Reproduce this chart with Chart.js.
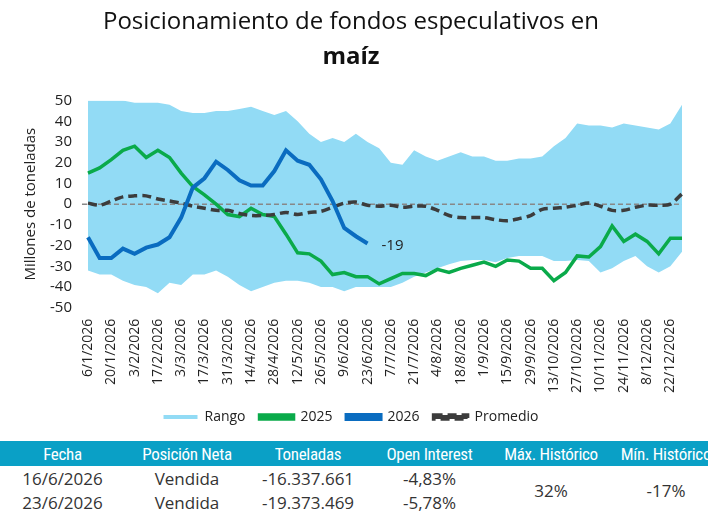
<!DOCTYPE html>
<html>
<head>
<meta charset="utf-8">
<script src="https://cdn.jsdelivr.net/npm/chart.js@4.4.1/dist/chart.umd.min.js"></script>
<style>
  body { margin: 0; background: #fff; width: 708px; height: 517px; overflow: hidden; font-family: 'Open Sans', sans-serif; }
  #wrap { position: absolute; left: 0; top: 0; width: 708px; height: 436px; }
  table { position: absolute; left: 0; top: 441px; border-collapse: collapse; table-layout: fixed; width: 722px; }
  th { background: #0aa0c6; color: #fff; font-family: 'Roboto', sans-serif; font-stretch: condensed; font-weight: normal; font-size: 17px; height: 25px; padding: 0; white-space: nowrap; letter-spacing: -0.3px; }
  td { color: #333; font-size: 17px; text-align: center; height: 24px; padding: 0; }
</style>
</head>
<body>
<div id="wrap"><canvas id="c" width="708" height="436"></canvas></div>
<table>
  <colgroup><col style="width:125px"><col style="width:124px"><col style="width:118px"><col style="width:125px"><col style="width:118px"><col style="width:112px"></colgroup>
  <tr><th>Fecha</th><th>Posición Neta</th><th>Toneladas</th><th>Open Interest</th><th>Máx. Histórico</th><th>Mín. Histórico</th></tr>
  <tr><td>16/6/2026</td><td>Vendida</td><td>-16.337.661</td><td>-4,83%</td><td rowspan="2">32%</td><td rowspan="2">-17%</td></tr>
  <tr><td>23/6/2026</td><td>Vendida</td><td>-19.373.469</td><td>-5,78%</td></tr>
</table>
<script>
const fechas = ['6/1/2026','13/1/2026','20/1/2026','27/1/2026','3/2/2026','10/2/2026','17/2/2026','24/2/2026',
  '3/3/2026','10/3/2026','17/3/2026','24/3/2026','31/3/2026','7/4/2026','14/4/2026','21/4/2026',
  '28/4/2026','5/5/2026','12/5/2026','19/5/2026','26/5/2026','2/6/2026','9/6/2026','16/6/2026',
  '23/6/2026','30/6/2026','7/7/2026','14/7/2026','21/7/2026','28/7/2026','4/8/2026','11/8/2026',
  '18/8/2026','25/8/2026','1/9/2026','8/9/2026','15/9/2026','22/9/2026','29/9/2026','6/10/2026',
  '13/10/2026','20/10/2026','27/10/2026','3/11/2026','10/11/2026','17/11/2026','24/11/2026','1/12/2026',
  '8/12/2026','15/12/2026','22/12/2026','29/12/2026'];

const rangoMax = [50,50,50,50,49,49,49,48,45,44,44,45,45,46,47,45,43,45,40,34,30,32,30,34,
  30,27,20,19,26,23,21,23,25,23,23,21,21,22,22,23,28,32,39,38,38,37,39,38,37,36,39,48];
const rangoMin = [-32,-34,-34,-37,-39,-40,-43,-38,-39,-34,-34,-32,-35,-39,-42,-40,-38,-37,-37,-38,-40,-40,-42,-40,
  -40,-40,-40,-38,-35,-33,-31,-29,-27.5,-27,-27,-28,-26,-25,-25,-25,-27.5,-27.5,-27,-27.5,-33,-31,-27.5,-25,-30,-33,-30,-23];
const serie2025 = [15,17.5,21.5,26,28,22.5,26,22.5,15,8.5,4.5,0,-5,-6,-2,-5,-6,-14.5,-23.5,-24,-27.5,-34,-33,-35,
  -35,-38.5,-36,-33.5,-33.5,-34.5,-31.5,-33,-31,-29.5,-28,-30,-27,-27.5,-31,-31,-37,-33,-25,-25.5,-20.5,-10.5,-18,-14.5,-18,-24,-16.5,-16.5];
const serie2026 = [-16,-26,-26,-21.5,-24,-21,-19.5,-16,-6.5,8,12.5,20.5,16.5,11.5,9,9,16,26,21,19,12,1.5,-11.5,-15.5,-19];
const promedio = [0.5,-0.5,1.5,3.5,4,4,2.5,1.5,0.5,-1,-2,-3,-3,-4.5,-5.5,-5.5,-5,-4,-5,-4,-3.5,-1.5,0.5,1,
  -0.5,-1,-0.5,-1.5,-1,-1,-3,-5.5,-6.5,-6.5,-6.5,-7.5,-8,-7,-5.5,-2.5,-2,-1.5,-0.5,0.5,-1,-3,-3,-1.5,-0.5,-0.5,0,5];
const ticksY = [50,40,30,20,10,0,-10,-20,-30,-40,-50];

const extras = {
  id: 'extras',
  beforeDatasetDraw(chart, args) {
    // zero line, drawn right after the range fill
    if (args.index !== 2) return;
    const { ctx, chartArea: a, scales: { y } } = chart;
    const py = y.getPixelForValue(0);
    ctx.save();
    ctx.strokeStyle = '#888';
    ctx.lineWidth = 1.5;
    ctx.setLineDash([5, 3]);
    ctx.beginPath(); ctx.moveTo(a.left - 6, py); ctx.lineTo(a.right, py); ctx.stroke();
    ctx.restore();
  },
  afterDatasetsDraw(chart) {
    const meta = chart.getDatasetMeta(3);
    const p = meta.data[meta.data.length - 1];
    const { ctx } = chart;
    ctx.save();
    ctx.fillStyle = '#222';
    ctx.font = '15px "Open Sans"';
    ctx.textBaseline = 'middle';
    ctx.fillText(serie2026[serie2026.length - 1].toFixed(0), p.x + 14, p.y + 2);
    ctx.restore();
  }
};

new Chart(document.getElementById('c'), {
  type: 'line',
  data: {
    labels: fechas,
    datasets: [
      { label: 'Rango', data: rangoMax, order: 10, borderWidth: 0, pointRadius: 0, backgroundColor: '#92dbf5', borderColor: '#92dbf5', fill: '+1', tension: 0 },
      { label: 'min', data: rangoMin, order: 9, borderWidth: 0, pointRadius: 0, backgroundColor: '#92dbf5', borderColor: '#92dbf5', fill: false, tension: 0 },
      { label: '2025', data: serie2025, order: 3, borderColor: '#0aaa4a', backgroundColor: '#0aaa4a', borderWidth: 3.5, pointRadius: 0, fill: false, tension: 0 },
      { label: '2026', data: serie2026, order: 1, borderColor: '#0a6cc0', backgroundColor: '#0a6cc0', borderWidth: 4, pointRadius: 0, fill: false, tension: 0 },
      { label: 'Promedio', data: promedio, order: 2, borderColor: '#3c3c3c', backgroundColor: '#3c3c3c', borderWidth: 3.5, borderDash: [9, 5], pointRadius: 0, fill: false, tension: 0.3 }
    ]
  },
  options: {
    responsive: false,
    animation: false,
    layout: { padding: { left: 20, right: 26, top: 0, bottom: 2 } },
    scales: {
      x: {
        offset: false,
        grid: { display: false },
        border: { display: false },
        ticks: {
          autoSkip: false, maxRotation: 90, minRotation: 90, color: '#222',
          font: { family: 'Open Sans', size: 14 },
          callback: (v, i) => i % 2 === 0 ? fechas[i] : ''
        }
      },
      y: {
        min: -50, max: 50,
        afterBuildTicks: ax => { ax.ticks = ticksY.map(v => ({ value: v })); },
        grid: { display: false },
        border: { display: false },
        ticks: { autoSkip: false, color: '#222', font: { family: 'Open Sans', size: 15 }, padding: 8 },
        title: { display: true, text: 'Millones de toneladas', color: '#222', font: { family: 'Open Sans', size: 15 }, padding: 2 }
      }
    },
    plugins: {
      title: { display: true, text: 'Posicionamiento de fondos especulativos en', color: '#111', font: { family: 'Open Sans', size: 24, weight: 'normal' }, padding: { top: 8, bottom: 6 } },
      subtitle: { display: true, text: 'maíz', color: '#111', font: { family: 'Open Sans', size: 24, weight: 'bold' }, padding: { bottom: 29 } },
      legend: {
        position: 'bottom',
        labels: {
          color: '#222', font: { family: 'Open Sans', size: 14 }, boxWidth: 34, boxHeight: 4, padding: 14,
          filter: item => item.text !== 'min',
          sort: (a, b) => a.datasetIndex - b.datasetIndex
        }
      },
      tooltip: { enabled: false }
    }
  },
  plugins: [extras]
});
</script>
</body>
</html>
